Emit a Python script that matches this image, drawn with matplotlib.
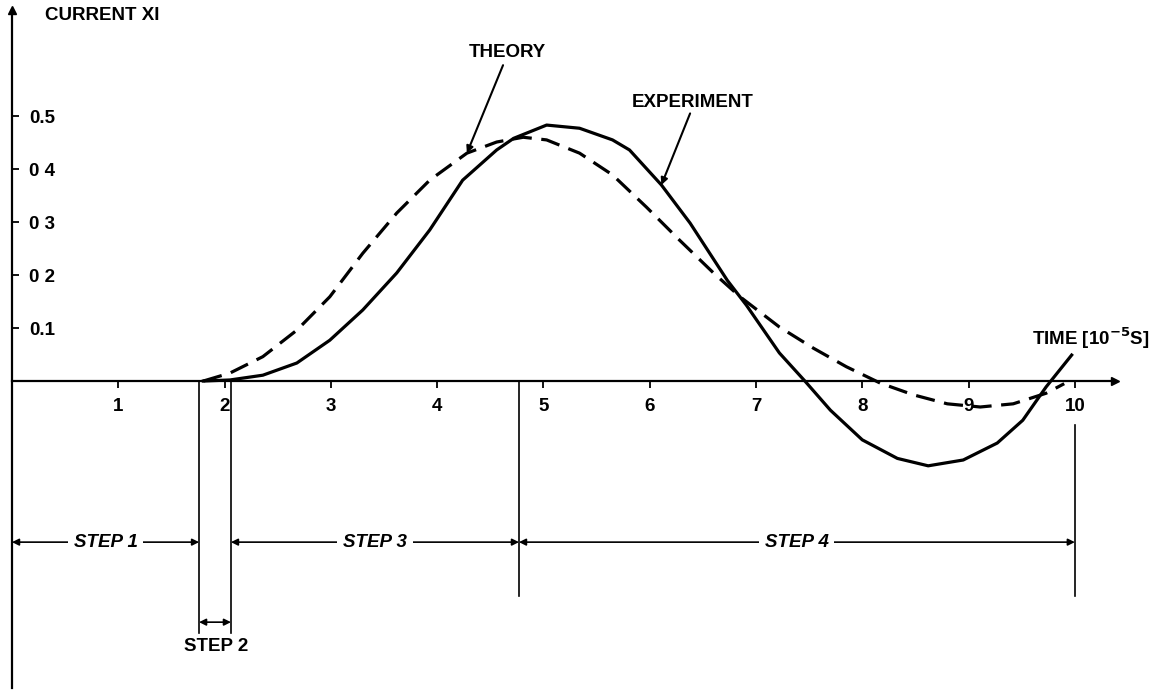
import matplotlib
matplotlib.use("Agg")
import matplotlib.pyplot as plt

plt.rcParams['font.family'] = ['Liberation Sans', 'DejaVu Sans']
plt.rcParams['font.weight'] = 'bold'

# values (time in 1e-5 s, current Xi)
theory_t = [1.80, 2.05, 2.36, 2.68, 2.99, 3.30, 3.62, 3.93, 4.28, 4.56, 4.81,
            5.03, 5.34, 5.65, 5.97, 6.28, 6.60, 6.85, 7.22, 7.54, 7.85, 8.17,
            8.48, 8.80, 9.11, 9.42, 9.73, 9.90]
theory_x = [0.0, 0.015, 0.046, 0.096, 0.159, 0.241, 0.317, 0.379, 0.430, 0.451,
            0.460, 0.455, 0.430, 0.389, 0.328, 0.266, 0.204, 0.159, 0.102, 0.062,
            0.027, -0.004, -0.026, -0.043, -0.049, -0.043, -0.023, -0.005]

exp_t = [1.80, 2.05, 2.36, 2.68, 2.99, 3.30, 3.62, 3.93, 4.24, 4.56, 4.72, 5.03,
         5.34, 5.65, 5.81, 6.11, 6.38, 6.73, 6.91, 7.22, 7.46, 7.70, 8.00, 8.33,
         8.62, 8.95, 9.27, 9.51, 9.73, 9.97]
exp_x = [0.0, 0.002, 0.011, 0.034, 0.077, 0.134, 0.204, 0.285, 0.379, 0.436,
         0.458, 0.483, 0.477, 0.455, 0.436, 0.370, 0.298, 0.190, 0.143, 0.053,
         0.0, -0.055, -0.111, -0.146, -0.160, -0.149, -0.117, -0.074, -0.011, 0.049]

x_ticks = [1, 2, 3, 4, 5, 6, 7, 8, 9, 10]
y_ticks = [0.1, 0.2, 0.3, 0.4, 0.5]
y_labels = ['0.1', '0 2', '0 3', '0 4', '0.5']

# step boundaries
step_bounds = [0.0, 1.76, 2.06, 4.77, 10.0]
step_names = ['STEP 1', 'STEP 3', 'STEP 4']

fs = 13.5

fig = plt.figure(figsize=(11.62, 6.99), dpi=100)
ax = fig.add_axes([0, 0, 1, 1])
ax.set_xlim(-0.113, 10.82)
ax.set_ylim(-0.60, 0.719)

# axes through the origin
for s in ['top', 'right']:
    ax.spines[s].set_visible(False)
ax.spines['left'].set_position(('data', 0))
ax.spines['bottom'].set_position(('data', 0))
ax.spines['left'].set_bounds(-0.58, 0.70)
ax.spines['bottom'].set_bounds(0, 10.38)
ax.spines['left'].set_linewidth(1.6)
ax.spines['bottom'].set_linewidth(1.6)
ax.plot(0, 0.70, marker='^', color='black', markersize=6, clip_on=False)
ax.plot(10.38, 0, marker='>', color='black', markersize=6, clip_on=False)

ax.set_xticks(x_ticks)
ax.set_xticklabels([str(t) for t in x_ticks])
ax.tick_params(axis='x', direction='out', length=5, width=1.3, pad=7, labelsize=fs)
ax.set_yticks(y_ticks)
ax.set_yticklabels(y_labels)
ax.tick_params(axis='y', direction='in', length=5, width=1.3, pad=-12.5, labelsize=fs)
for lab in ax.get_yticklabels():
    lab.set_horizontalalignment('left')

# curves
ax.plot(theory_t, theory_x, color='black', lw=2.3, linestyle=(0, (6, 3)),
        dash_joinstyle='round', dash_capstyle='butt')
ax.plot(exp_t, exp_x, color='black', lw=2.3, solid_joinstyle='round')

# labels
ax.text(0.31, 0.69, 'CURRENT XI', fontsize=fs, va='center', ha='left')
ax.text(4.66, 0.619, 'THEORY', fontsize=fs, va='center', ha='center')
ax.annotate('', xy=(4.28, 0.43), xytext=(4.62, 0.596),
            arrowprops=dict(arrowstyle='-|>', color='black', lw=1.5, mutation_scale=10,
                            shrinkA=0, shrinkB=0))
ax.text(6.40, 0.526, 'EXPERIMENT', fontsize=fs, va='center', ha='center')
ax.annotate('', xy=(6.11, 0.37), xytext=(6.38, 0.505),
            arrowprops=dict(arrowstyle='-|>', color='black', lw=1.5, mutation_scale=10,
                            shrinkA=0, shrinkB=0))
ax.text(9.6, 0.08, r'TIME [10$^{-5}$S]', fontsize=fs, va='center', ha='left')

# step boundary lines
ax.plot([step_bounds[1]] * 2, [0, -0.475], color='black', lw=1.2)
ax.plot([step_bounds[2]] * 2, [0, -0.475], color='black', lw=1.2)
ax.plot([step_bounds[3]] * 2, [0, -0.405], color='black', lw=1.2)
ax.plot([step_bounds[4]] * 2, [-0.083, -0.405], color='black', lw=1.2)

# step arrows
step_y = -0.304
arrow_kw = dict(arrowstyle='<|-|>', color='black', lw=1.2, mutation_scale=10,
                shrinkA=0, shrinkB=0)
box = dict(facecolor='white', edgecolor='none', pad=4)
spans = [(step_bounds[0], step_bounds[1]), (step_bounds[2], step_bounds[3]),
         (step_bounds[3], step_bounds[4])]
for (a, b), name in zip(spans, step_names):
    ax.annotate('', xy=(a, step_y), xytext=(b, step_y), arrowprops=arrow_kw)
    ax.text((a + b) / 2, step_y, name, fontsize=fs, style='italic',
            ha='center', va='center', bbox=box)
ax.annotate('', xy=(step_bounds[1], -0.455), xytext=(step_bounds[2], -0.455),
            arrowprops=arrow_kw)
ax.text(1.92, -0.50, 'STEP 2', fontsize=fs, ha='center', va='center')

fig.savefig('out.png', dpi=100, facecolor='white')
